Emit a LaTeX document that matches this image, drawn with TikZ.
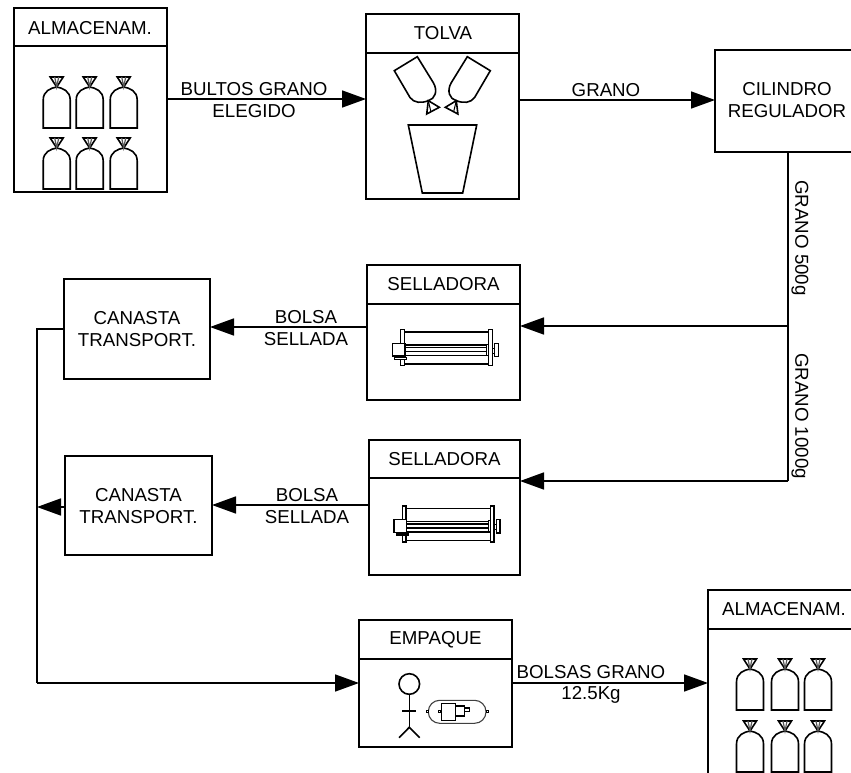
\documentclass[tikz,border=0pt]{standalone}
\usepackage{fontspec}
\setmainfont{Liberation Sans}
\usetikzlibrary{arrows.meta}
\tikzset{
  x=1pt,y=-1pt,
  box/.style={draw,line width=1.9pt,inner sep=0pt,outer sep=0pt,anchor=north west},
  divider/.style={line width=1.9pt},
  lbl/.style={inner sep=0pt,font=\fontsize{18.7}{22}\selectfont,align=center},
  conn/.style={line width=1.6pt},
  arr/.style={line width=1.6pt,-{Triangle[length=24pt,width=17pt]}},
  ico/.style={line width=1.6pt,line join=miter},
  thin ico/.style={line width=1pt},
  bag/.pic={
    \draw[ico,fill=white] (-13.5,41)--(-13.5,13) .. controls (-13.5,4) and (-6,1) .. (0,0) .. controls (6,1) and (13.5,4) .. (13.5,13)--(13.5,41)--cycle;
    \draw[ico] (-6.5,-10)--(6.5,-10)--(0,0)--cycle;
    \draw[line width=1.2pt,black!65] (-2,-10)--(0,0)--(2,-10);
  },
  sealer/.pic={
    \draw[line width=1.5pt,fill=white] (0,0) rectangle (3.6,36);
    \draw[line width=1.5pt,fill=white] (88,0) rectangle (91.6,36);
    \draw[line width=1.6pt] (3.6,2.5)--(88,2.5) (3.6,34.3)--(88,34.3);
    \draw[line width=1.5pt] (3.6,15.5)--(88,15.5) (3.6,18)--(86,18) (3.6,22)--(86,22) (3.6,26)--(88,26);
    \draw[line width=1.4pt,fill=white] (-8.4,13.6) rectangle (4.3,26.3);
    \draw[line width=1.4pt,fill=white] (-6,28) rectangle (6,29.6);
    \draw[line width=1.4pt,fill=white] (86,14.5) rectangle (88,25.5);
    \draw[line width=1.4pt] (91.6,18.5) rectangle (94,23.5);
    \draw[line width=1.4pt,fill=white] (94,13.5) rectangle (97.6,27);
  },
}
\begin{document}
\begin{tikzpicture}
\useasboundingbox (0,0) rectangle (851,773);
\clip (0,0) rectangle (851,773);
% boxes
\node[box,minimum width=153pt,minimum height=184pt] (almA) at (14,8) {};
\node[box,minimum width=153pt,minimum height=185pt] (tolva) at (366,14) {};
\node[box,minimum width=160pt,minimum height=102pt] (cil) at (715,50) {};
\node[box,minimum width=153pt,minimum height=135pt] (selA) at (367,265) {};
\node[box,minimum width=151pt,minimum height=135pt] (selB) at (369,440) {};
\node[box,minimum width=146pt,minimum height=100pt] (canA) at (64,279) {};
\node[box,minimum width=147pt,minimum height=99pt] (canB) at (65,456) {};
\node[box,minimum width=153pt,minimum height=127pt] (emp) at (359,620) {};
\node[box,minimum width=160pt,minimum height=200pt] (almB) at (708,590) {};
% dividers
\draw[divider] (almA.west |- 0,46)--(almA.east |- 0,46);
\draw[divider] (tolva.west |- 0,53)--(tolva.east |- 0,53);
\draw[divider] (selA.west |- 0,304)--(selA.east |- 0,304);
\draw[divider] (selB.west |- 0,478)--(selB.east |- 0,478);
\draw[divider] (emp.west |- 0,659)--(emp.east |- 0,659);
\draw[divider] (almB.west |- 0,629)--(almB.east |- 0,629);
% titles
\node[lbl] (tA) at (90,28) {ALMACENAM.};
\node[lbl] (tT) at (443,33) {TOLVA};
\node[lbl] (tC) at (787,100) {CILINDRO\\REGULADOR};
\node[lbl] (tS) at (443.5,284) {SELLADORA};
\node[lbl] (tS2) at (444.5,459) {SELLADORA};
\node[lbl] (tCa) at (137,329) {CANASTA\\TRANSPORT.};
\node[lbl] (tCb) at (138.5,506) {CANASTA\\TRANSPORT.};
\node[lbl] (tE) at (435.5,640) {EMPAQUE};
\node[lbl] (tB) at (784,609) {ALMACENAM.};
% connector labels
\node[lbl] (l1a) at (254,89) {BULTOS GRANO};
\node[lbl] (l1b) at (254,111) {ELEGIDO};
\node[lbl] (l2) at (606,90) {GRANO};
\node[lbl] (l3a) at (306,317) {BOLSA};
\node[lbl] (l3b) at (306,339) {SELLADA};
\node[lbl] (l4a) at (307,495) {BOLSA};
\node[lbl] (l4b) at (307,517) {SELLADA};
\node[lbl] (l5a) at (591,672) {BOLSAS GRANO};
\node[lbl] (l5b) at (591,695) {12.5Kg};
\node[lbl,rotate=-90] (v1) at (800,238) {GRANO 500g};
\node[lbl,rotate=-90] (v2) at (800,416) {GRANO 1000g};
% junction coordinates
\coordinate (j1) at (788,326);
\coordinate (j2) at (788,481);
\coordinate (j3) at (37,329);
\coordinate (j4) at (37,507);
\coordinate (j5) at (37,683);
% connectors
\draw[arr] (almA.east |- 0,99)--(tolva.west |- 0,99);
\draw[arr] (tolva.east |- 0,100)--(cil.west |- 0,100);
\draw[conn] (cil.south -| j1)--(j2);
\draw[arr] (j1)--(selA.east |- j1);
\draw[arr] (j2)--(selB.east |- j2);
\draw[arr] (selA.west |- 0,327)--(canA.east |- 0,327);
\draw[arr] (selB.west |- 0,505)--(canB.east |- 0,505);
\draw[conn] (canA.west |- j3)--(j3)--(j5);
\draw[arr] (canB.west |- j4)--(j4);
\draw[arr] (j5)--(emp.west |- j5);
\draw[arr] (emp.east |- j5)--(almB.west |- j5);
% bags in storage
\foreach \px in {56.7,89.7,123.7}{
  \pic at (\px,87) {bag};
  \pic at (\px,148) {bag};
}
\foreach \px in {750,785,818}{
  \pic at (\px,669) {bag};
  \pic at (\px,731) {bag};
}
% hopper
\foreach \sx/\ox in {1/0,-1/884.6}{
\begin{scope}[shift={(\ox,0)},xscale=\sx]
  \draw[ico] (417.3,56.7)--(433.5,83) .. controls (438,91) and (435,99) .. (428.3,100.7) .. controls (421,103.5) and (414,103) .. (410,97.5)--(394.3,70.7)--cycle;
  \draw[ico] (428.3,100.7)--(426.7,114)--(439.3,107.3)--cycle;
  \draw[thin ico] (431,112)--(428.3,100.7);
\end{scope}
}
\draw[ico] (408.3,125)--(476.7,125)--(462.7,193)--(422.3,193)--cycle;
% sealers
\pic at (400.7,329.7) {sealer};
\pic at (402.4,506) {sealer};
% packing station
\draw[ico] (409.3,684) circle (10.3);
\draw[ico] (409.3,694.3)--(409.3,727.3);
\draw[ico] (402.3,710.7)--(416.3,710.7);
\draw[ico] (399,737.7)--(409.3,727.3)--(419.7,737.7);
\draw[line width=1.1pt,black!75,rounded corners=11.4pt] (428.3,700.3) rectangle (486,723.3);
\draw[line width=1.2pt,fill=white] (441.3,703.3) rectangle (455.3,720.7);
\draw[line width=1.2pt,fill=white] (455.3,706) rectangle (464.3,716);
\draw[line width=1.2pt,fill=white] (464.3,708) rectangle (469.3,711.3);
\draw[line width=.8pt,fill=white] (438.2,710.7) rectangle (440.4,712.7);
\draw[line width=.8pt,fill=white] (426.7,710.7) rectangle (428.7,712.7);
\draw[line width=.8pt,fill=white] (486.5,710.7) rectangle (488.7,712.7);
\end{tikzpicture}
\end{document}
